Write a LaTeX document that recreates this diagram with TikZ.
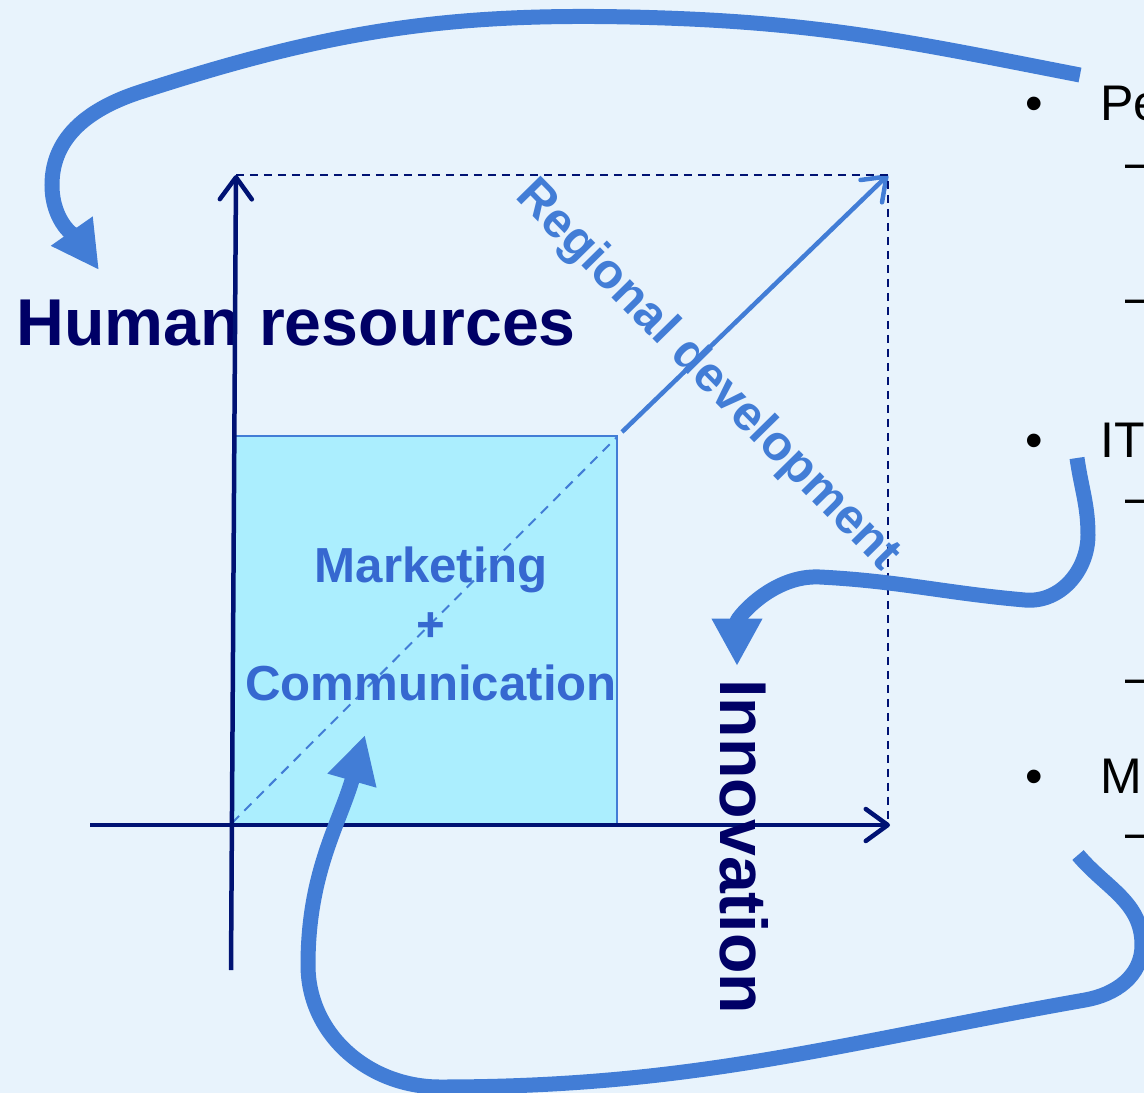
\documentclass[tikz,border=0pt]{standalone}
\usepackage{fontspec}
\setmainfont{Liberation Sans}
\usetikzlibrary{arrows.meta}
\definecolor{bgblue}{RGB}{232,243,252}
\definecolor{navytext}{RGB}{0,0,102}
\definecolor{axisblue}{RGB}{0,18,115}
\definecolor{flowblue}{RGB}{66,125,214}
\definecolor{boxcyan}{RGB}{171,238,254}
\definecolor{mktblue}{RGB}{54,104,208}

\begin{document}
\begin{tikzpicture}[x=0.02cm, y=-0.02cm,
    axis/.style={draw=axisblue, line width=0.09cm, -{Straight Barb[length=0.44cm, width=0.64cm, round]}},
    guide/.style={draw=axisblue, line width=0.045cm, dash pattern=on 0.16cm off 0.12cm},
    flow/.style={draw=flowblue, line width=0.3cm, -{Triangle[length=0.95cm, width=0.95cm]}},
    axislabel/.style={font=\fontsize{37.7}{45}\selectfont\bfseries, text=navytext, inner sep=0pt},
    bluelabel/.style={font=\fontsize{28}{33.5}\selectfont\bfseries, inner sep=0pt},
    listtext/.style={font=\fontsize{28.5}{34}\selectfont, text=black, inner sep=0pt}]

  \fill[bgblue] (0,0) rectangle (1144,1093);
  \path[use as bounding box] (0,0) rectangle (1144,1093);
  \clip (0,0) rectangle (1144,1093);

  \coordinate (o) at (231,825);
  \coordinate (ytop) at (236,175);
  \coordinate (ybot) at (231,970);
  \coordinate (xleft) at (90,825);
  \coordinate (xright) at (890,825);
  \coordinate (corner) at (888,175);
  \coordinate (cornerx) at (888,825);
  \coordinate (boxtl) at (234,436);
  \coordinate (boxbr) at (617,825);

  \fill[boxcyan] (boxtl) rectangle (boxbr);
  \draw[flowblue, line width=0.03cm] (boxtl) -- (boxbr |- boxtl) -- (boxbr);
  \draw[flowblue, line width=0.04cm, dash pattern=on 0.2cm off 0.15cm] (232,823) -- (617,437);
  \draw[flowblue, line width=0.09cm, -{Straight Barb[length=0.42cm, width=0.62cm, round]}] (622,432) -- (corner);
  \draw[guide] (ytop) -- (corner) -- (cornerx);

  \node[axislabel, anchor=base west] (hr) at (16,345) {Human resources};
  \draw[axis] (ybot) -- (ytop);
  \draw[axis] (xleft) -- (xright);
  \node[axislabel, rotate=-90, anchor=base west] (inno) at (720,679) {Innovation};

  \node[bluelabel, text=flowblue, rotate=-45.5] (reg) at (707,376) {Regional development};
  \node[bluelabel, text=mktblue, align=center] (mkt) at (431,624) {Marketing\\+\\Communication};

  \node[listtext, anchor=base] (b1) at (1034,120) {•};
  \node[listtext, anchor=base west] (pe) at (1100,120) {Pe};
  \node[listtext, anchor=base] (b2) at (1034,457) {•};
  \node[listtext, anchor=base west] (it) at (1100,457) {IT};
  \node[listtext, anchor=base] (b3) at (1034,793) {•};
  \node[listtext, anchor=base west] (ma) at (1100,793) {Ma};
  \foreach \y in {165,300,500,680,835}
    \node[listtext, anchor=base west] (d\y) at (1125,\y+14) {–};

  \coordinate (s1) at (1080,75);
  \coordinate (k1) at (665,18);
  \coordinate (k2) at (140,92);
  \coordinate (k3) at (52,185);
  \coordinate (hrtip) at (99,270);
  \draw[flow] (s1) to[out=169,in=-2] (k1) to[out=178,in=18] (k2)
    to[out=198,in=90] (k3) to[out=-90,in=125] (hrtip);

  \coordinate (s2) at (1077,458);
  \coordinate (m1) at (1088,535);
  \coordinate (m2) at (1025,600);
  \coordinate (m3) at (820,577);
  \coordinate (itip) at (737,666);
  \draw[flow] (s2) to[out=-82,in=90] (m1) to[out=-90,in=-5] (m2)
    to[out=175,in=-3] (m3) to[out=177,in=90] (itip);

  \coordinate (s3) at (1078,855);
  \coordinate (n1) at (1142,945);
  \coordinate (n2) at (1085,1000);
  \coordinate (n3) at (440,1087);
  \coordinate (n4) at (308,965);
  \coordinate (mtip) at (365,735);
  \draw[flow] (s3) to[out=-50,in=90] (n1) to[out=-90,in=10] (n2)
    to[out=190,in=0] (n3) to[out=180,in=-90] (n4) to[out=90,in=-106] (mtip);

\end{tikzpicture}
\end{document}
